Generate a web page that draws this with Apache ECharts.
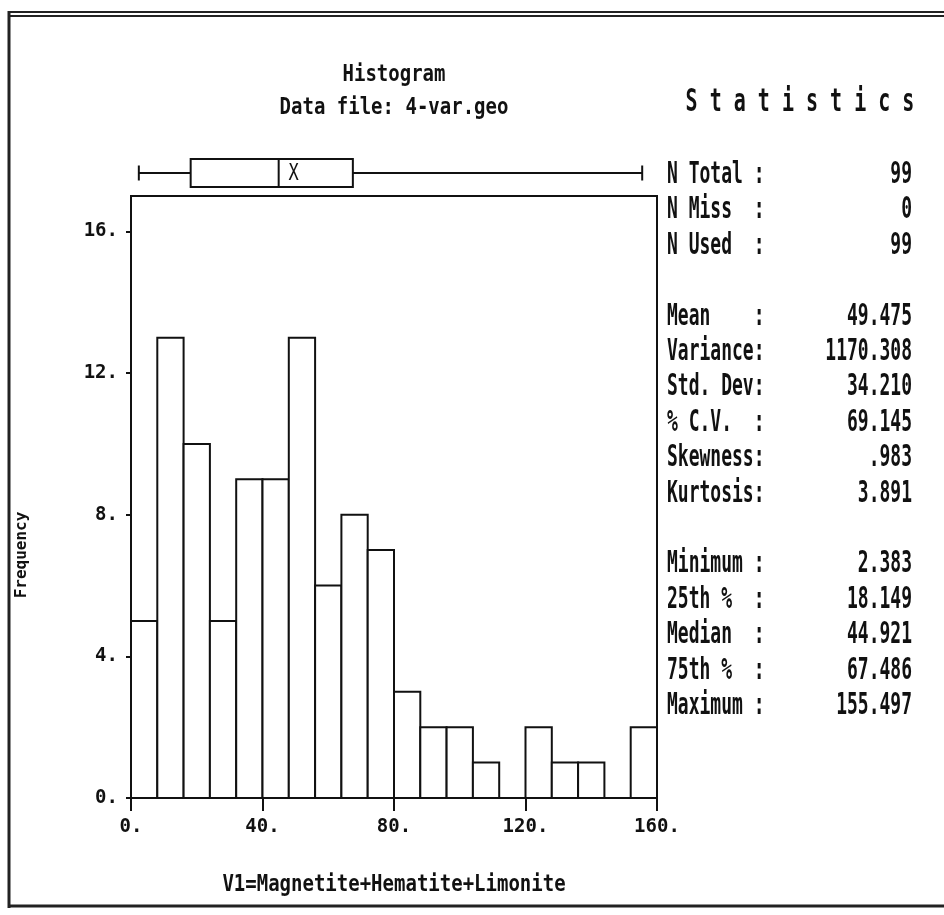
<!DOCTYPE html>
<html>
<head>
<meta charset="utf-8">
<script src="https://cdn.jsdelivr.net/npm/echarts@6/dist/echarts.min.js"></script>
<style>
html,body{margin:0;padding:0;background:#fff;}
#chart{width:944px;height:915px;}
</style>
</head>
<body>
<div id="chart"></div>
<script>
// ---- data ----
const binLow = [0, 8, 16, 24, 32, 40, 48, 56, 64, 72, 80, 88, 96, 104, 112, 120, 128, 136, 144, 152];
const binHigh = [8, 16, 24, 32, 40, 48, 56, 64, 72, 80, 88, 96, 104, 112, 120, 128, 136, 144, 152, 160];
const counts = [5, 13, 10, 5, 9, 9, 13, 6, 8, 7, 3, 2, 2, 1, 0, 2, 1, 1, 0, 2];
const boxStats = [2.383, 18.149, 44.921, 67.486, 155.497]; // min, q1, median, q3, max
const meanValue = 49.475;
const xTicks = [0, 40, 80, 120, 160];
const yTicks = [0, 4, 8, 12, 16];
const statLabels = ['N Total :', 'N Miss  :', 'N Used  :', '', 'Mean    :', 'Variance:', 'Std. Dev:', '% C.V.  :', 'Skewness:', 'Kurtosis:', '', 'Minimum :', '25th %  :', 'Median  :', '75th %  :', 'Maximum :'];
const statValues = ['99', '0', '99', '', '49.475', '1170.308', '34.210', '69.145', '.983', '3.891', '', '2.383', '18.149', '44.921', '67.486', '155.497'];
const titleLines = ['Histogram', 'Data file: 4-var.geo'];
const xName = 'V1=Magnetite+Hematite+Limonite';
const yName = 'Frequency';

const FONT = '"DejaVu Sans Mono", "Liberation Mono", monospace';
const chart = echarts.init(document.getElementById('chart'), null, {renderer: 'canvas'});

const histData = binLow.map((lo, i) => [lo, binHigh[i], counts[i]]);

function sText(x, y, text, size, sy, align, extra) {
  return Object.assign({
    type: 'text', x: x, y: y, scaleY: sy, silent: true,
    style: {text: text, font: 'bold ' + size + 'px ' + FONT, fill: '#111', align: align || 'left', verticalAlign: 'middle'}
  }, extra || {});
}

const graphics = [];
// outer frame
graphics.push({type: 'line', shape: {x1: 8, y1: 12, x2: 944, y2: 12}, style: {stroke: '#222', lineWidth: 2}});
graphics.push({type: 'line', shape: {x1: 8, y1: 16, x2: 944, y2: 16}, style: {stroke: '#222', lineWidth: 2}});
graphics.push({type: 'line', shape: {x1: 9, y1: 11, x2: 9, y2: 908}, style: {stroke: '#222', lineWidth: 3}});
graphics.push({type: 'line', shape: {x1: 8, y1: 906, x2: 944, y2: 906}, style: {stroke: '#222', lineWidth: 3}});
// titles
graphics.push(sText(394, 75, titleLines[0], 19, 1.25, 'center'));
graphics.push(sText(394, 108, titleLines[1], 19, 1.25, 'center'));
graphics.push(sText(800, 103, 'S t a t i s t i c s', 20, 1.6, 'center'));
// x name
graphics.push(sText(394, 885, xName, 19, 1.2, 'center'));
// y name
graphics.push({type: 'text', x: 22, y: 555, rotation: Math.PI / 2, silent: true,
  style: {text: yName, font: 'bold 16px ' + FONT, fill: '#111', align: 'center', verticalAlign: 'middle'}});
// statistics
const rowY0 = 175, rowStep = 35.4;
statLabels.forEach((lab, i) => {
  if (!lab) return;
  const y = rowY0 + i * rowStep;
  graphics.push(sText(667, y, lab, 18, 1.7, 'left'));
  graphics.push(sText(912, y, statValues[i], 18, 1.7, 'right'));
});

const option = {
  backgroundColor: '#fff',
  animation: false,
  grid: [
    {left: 131, right: 287, top: 196, bottom: 117, show: true, borderColor: '#111', borderWidth: 2, backgroundColor: 'transparent'},
    {left: 131, right: 287, top: 159, height: 28}
  ],
  xAxis: [
    {
      type: 'value', gridIndex: 0, min: 0, max: 160, interval: 40,
      axisLine: {show: true, onZero: false, lineStyle: {color: '#111', width: 2}},
      axisTick: {show: true, length: 13, lineStyle: {color: '#111', width: 2}},
      axisLabel: {show: true, margin: 20, color: '#111', fontFamily: FONT, fontWeight: 'bold', fontSize: 19,
        formatter: v => v + '.'},
      splitLine: {show: false}
    },
    {type: 'value', gridIndex: 1, min: 0, max: 160, show: false}
  ],
  yAxis: [
    {
      type: 'value', gridIndex: 0, min: 0, max: 17, interval: 4,
      axisLine: {show: true, lineStyle: {color: '#111', width: 2}},
      axisTick: {show: true, length: 5, lineStyle: {color: '#111', width: 2}},
      axisLabel: {show: true, margin: 13, color: '#111', fontFamily: FONT, fontWeight: 'bold', fontSize: 19,
        formatter: v => (v === 17 ? '' : v + '.'), showMaxLabel: false},
      splitLine: {show: false}
    },
    {type: 'value', gridIndex: 1, min: 0, max: 1, show: false}
  ],
  series: [
    {
      type: 'custom', xAxisIndex: 0, yAxisIndex: 0, data: histData, silent: true,
      renderItem: function (params, api) {
        const c = api.value(2);
        if (!c) return null;
        const p0 = api.coord([api.value(0), 0]);
        const p1 = api.coord([api.value(1), c]);
        return {type: 'rect', shape: {x: p0[0], y: p1[1], width: p1[0] - p0[0], height: p0[1] - p1[1]},
          style: {fill: '#fff', stroke: '#111', lineWidth: 2}};
      }
    },
    {
      type: 'custom', xAxisIndex: 1, yAxisIndex: 1, silent: true,
      data: [[boxStats[0], boxStats[1], boxStats[2], boxStats[3], boxStats[4], meanValue]],
      renderItem: function (params, api) {
        const ys = api.coord([0, 0.5])[1];
        const px = k => api.coord([api.value(k), 0.5])[0];
        const mn = px(0), q1 = px(1), md = px(2), q3 = px(3), mx = px(4), mean = px(5);
        const hb = 14, hc = 7.5;
        const st = {stroke: '#111', lineWidth: 2, fill: null};
        return {type: 'group', children: [
          {type: 'line', shape: {x1: mn, y1: ys, x2: q1, y2: ys}, style: st},
          {type: 'line', shape: {x1: q3, y1: ys, x2: mx, y2: ys}, style: st},
          {type: 'line', shape: {x1: mn, y1: ys - hc, x2: mn, y2: ys + hc}, style: st},
          {type: 'line', shape: {x1: mx, y1: ys - hc, x2: mx, y2: ys + hc}, style: st},
          {type: 'rect', shape: {x: q1, y: ys - hb, width: q3 - q1, height: 2 * hb}, style: {stroke: '#111', lineWidth: 2, fill: '#fff'}},
          {type: 'line', shape: {x1: md, y1: ys - hb, x2: md, y2: ys + hb}, style: st},
          {type: 'text', x: mean, y: ys + 1, scaleY: 1.3,
            style: {text: 'X', font: '17px ' + FONT, fill: '#111', align: 'center', verticalAlign: 'middle'}}
        ]};
      }
    }
  ],
  graphic: graphics
};
chart.setOption(option);
</script>
</body>
</html>
